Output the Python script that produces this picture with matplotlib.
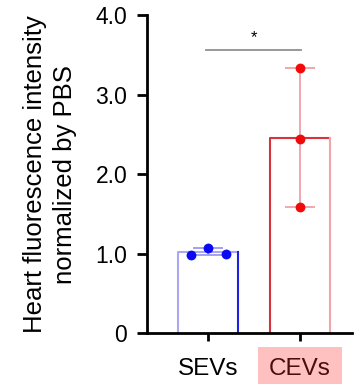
import numpy as np
import matplotlib.pyplot as plt

plt.rcParams['font.family'] = ['Liberation Sans', 'DejaVu Sans']

groups = ['SEVs', 'CEVs']
sev_vals = [0.99, 1.07, 1.00]
cev_vals = [3.33, 2.44, 1.59]
sev_jitter = [-0.19, 0.0, 0.2]
cev_jitter = [0.0, 0.0, 0.0]
yticks = [0, 1.0, 2.0, 3.0, 4.0]
ytick_labels = ['0', '1.0', '2.0', '3.0', '4.0']
sig_y = 3.56

# left edge / right edge colours of each bar
left_cols = ['#a8a8f4', '#d8323e']
right_cols = ['#2020e0', '#f0a4ac']
dot_cols = ['#0a0af0', '#f00a0a']
err_cols = ['#9a9af0', '#f0a0a8']

fig = plt.figure(figsize=(3.57, 3.84), dpi=100)
ax = fig.add_axes([0.411, 0.132, 0.575, 0.829])

w = 0.65
data = [sev_vals, cev_vals]
jit = [sev_jitter, cev_jitter]
for i, vals in enumerate(data):
    m = np.mean(vals)
    ax.bar(i, m, width=w, facecolor='white', edgecolor='none', zorder=2)
    ax.plot([i - w / 2, i - w / 2, i + w / 2], [0, m, m], color=left_cols[i], lw=1.5, zorder=2.5)
    ax.plot([i + w / 2, i + w / 2], [0, m], color=right_cols[i], lw=1.5, zorder=2.5)
    ax.errorbar(i, m, yerr=[[m - min(vals)], [max(vals) - m]], color=err_cols[i],
                capsize=11, elinewidth=1.3, capthick=1.3, zorder=3)
    ax.scatter(np.array(jit[i]) + i, vals, s=50, color=dot_cols[i], zorder=4, linewidths=0)

# significance bar
ax.plot([-0.02, 1.01], [sig_y, sig_y], color='#909090', lw=1.3, clip_on=False)
ax.text(0.5, sig_y + 0.06, '*', ha='center', va='bottom', fontsize=12)

ax.set_xlim(-0.666, 1.565)
ax.set_ylim(0, 4.0)
ax.set_yticks(yticks)
ax.set_yticklabels(ytick_labels, fontsize=16.5)
ax.set_xticks([0, 1])
ax.set_xticklabels(groups, fontsize=17.5)
lab = ax.get_xticklabels()[1]
lab.set_color('#4a0c0c')
lab.set_bbox(dict(facecolor='#ffc0c0', edgecolor='none', pad=8))
ax.tick_params(axis='x', length=6, width=2, pad=12)
ax.tick_params(axis='y', length=7, width=2, pad=7)
for s in ['top', 'right']:
    ax.spines[s].set_visible(False)
for s in ['left', 'bottom']:
    ax.spines[s].set_linewidth(2)
ax.set_ylabel('Heart fluorescence intensity\nnormalized by PBS', fontsize=18.5,
              linespacing=1.35, labelpad=13)

fig.savefig('out.png', dpi=100)
